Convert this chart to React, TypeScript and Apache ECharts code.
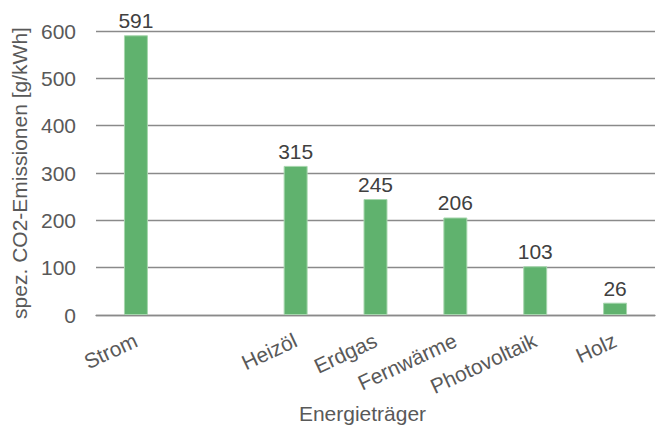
import React, { useEffect, useRef } from "react";
import * as echarts from "echarts";

// Energy carriers; the second slot is intentionally left empty
const categories = ["Strom", "", "Heizöl", "Erdgas", "Fernwärme", "Photovoltaik", "Holz"];
const emissions: (number | null)[] = [591, null, 315, 245, 206, 103, 26];
const yTicks = { min: 0, max: 600, interval: 100 };

const FONT = "Liberation Sans, Arial, sans-serif";

export default function App() {
  const ref = useRef<HTMLDivElement>(null);

  useEffect(() => {
    if (!ref.current) return;
    const chart = echarts.init(ref.current, undefined, { renderer: "svg" });
    chart.setOption({
      animation: false,
      backgroundColor: "#ffffff",
      textStyle: { fontFamily: FONT },
      grid: {
        left: 96,
        right: 1,
        top: 31,
        bottom: 110,
        containLabel: false,
        outerBoundsMode: "none",
      },
      xAxis: {
        type: "category",
        data: categories,
        boundaryGap: true,
        axisLine: { show: true, lineStyle: { color: "#8a8a8a", width: 1.3 } },
        axisTick: { show: false },
        axisLabel: {
          rotate: 25,
          margin: 24,
          interval: 0,
          fontSize: 21,
          color: "#595959",
          fontFamily: FONT,
        },
        name: "Energieträger",
        nameLocation: "middle",
        nameGap: 83,
        nameTextStyle: {
          fontSize: 21,
          color: "#595959",
          fontFamily: FONT,
          padding: [0, 26, 0, 0],
        },
      },
      yAxis: {
        type: "value",
        min: yTicks.min,
        max: yTicks.max,
        interval: yTicks.interval,
        axisLine: { show: false },
        axisTick: { show: false },
        splitLine: { show: true, lineStyle: { color: "#8a8a8a", width: 1.3 } },
        axisLabel: { fontSize: 21, color: "#595959", margin: 20, fontFamily: FONT },
        name: "spez. CO2-Emissionen [g/kWh]",
        nameLocation: "middle",
        nameGap: 59,
        nameRotate: 90,
        nameTextStyle: { fontSize: 21, color: "#595959", fontFamily: FONT },
      },
      series: [
        {
          type: "bar",
          data: emissions,
          barWidth: "30%",
          itemStyle: { color: "#60b26e", borderColor: "#a6d6ad", borderWidth: 1 },
          label: {
            show: true,
            position: "top",
            distance: 4,
            fontSize: 21,
            color: "#404040",
            fontFamily: FONT,
          },
        },
      ],
    });
    return () => chart.dispose();
  }, []);

  return (
    <div
      ref={ref}
      style={{ position: "fixed", left: 0, top: 0, width: 656, height: 425 }}
    />
  );
}
